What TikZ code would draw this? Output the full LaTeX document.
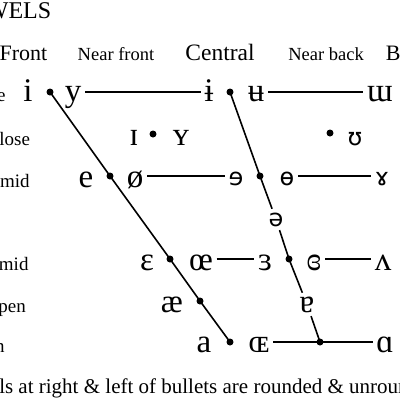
\documentclass[tikz,border=0pt]{standalone}
\usepackage{fontspec}
\setmainfont{Liberation Serif}
\newfontfamily\ipasans{DejaVu Sans}
\usepackage{tikz}

\begin{document}
\begin{tikzpicture}[
  x=1pt, y=-1pt,
  vowel/.style={anchor=base, inner sep=3pt, font=\fontsize{33}{33}\selectfont},
  svowel/.style={anchor=base, inner sep=3pt, font=\ipasans\fontsize{24}{24}\selectfont},
  bullet/.style={circle, fill=black, inner sep=0pt, minimum size=7pt},
  height/.style={anchor=base, font=\fontsize{19}{19}\selectfont},
  backness/.style={anchor=base, font=\fontsize{22}{22}\selectfont},
  nearback/.style={anchor=base, font=\fontsize{18.5}{18.5}\selectfont},
  line width=1.6pt
]
  \useasboundingbox (0,0) rectangle (400,400);
  \clip (0,0) rectangle (400,400);

  % title and column heads
  \node[anchor=base east, inner sep=0pt, font=\fontsize{24}{24}\selectfont] (title) at (52,18) {VOWELS};
  \node[backness, anchor=base east, inner sep=0pt] (front) at (48,60) {Front};
  \node[nearback] (nfront) at (116,60) {Near front};
  \node[backness, font=\fontsize{23.5}{23.5}\selectfont] (central) at (220,60) {Central};
  \node[nearback] (nback) at (326,60) {Near back};
  \node[backness, anchor=base west, inner sep=0pt] (back) at (385,60) {Back};

  % row heads
  \node[height] (hclose) at (-16,101) {Close};
  \node[height] (hnclose) at (-11,145) {Near-close};
  \node[height] (hcmid) at (-10,187) {Close-mid};
  \node[height] (homid) at (-10,270) {Open-mid};
  \node[height] (hnopen) at (-14,312) {Near-open};
  \node[height] (hopen) at (-16,352) {Open};

  % close
  \node[vowel] (i) at (28,101) {i};
  \node[bullet] (fcl) at (50,92) {};
  \node[vowel] (y) at (73,101) {y};
  \node[vowel] (ibar) at (209,101) {ɨ};
  \node[bullet] (ccl) at (230,92) {};
  \node[vowel] (ubar) at (256,101) {ʉ};
  \node[vowel] (mturn) at (380,101) {ɯ};
  % near-close
  \node[vowel] (ismall) at (134,145) {ɪ};
  \node[bullet] (fncl) at (153,134) {};
  \node[vowel] (ysmall) at (181,145) {ʏ};
  \node[bullet] (bncl) at (330,133) {};
  \node[svowel] (upsilon) at (355,145) {ʊ};
  % close-mid
  \node[vowel] (e) at (86,187) {e};
  \node[bullet] (fcm) at (110,176) {};
  \node[vowel] (oslash) at (135,187) {ø};
  \node[svowel] (erev) at (236,185) {ɘ};
  \node[bullet] (ccm) at (260,176) {};
  \node[svowel] (obar) at (287,185) {ɵ};
  \node[svowel] (gamma) at (382,185) {ɤ};
  % mid
  \node[svowel] (schwa) at (276,226) {ə};
  % open-mid
  \node[vowel] (epsilon) at (147,270) {ɛ};
  \node[bullet] (fom) at (170,259) {};
  \node[vowel] (oe) at (201,270) {œ};
  \node[vowel] (epsrev) at (265,270) {ɜ};
  \node[bullet] (com) at (289,259) {};
  \node[vowel] (epsclosed) at (314,270) {ɞ};
  \node[vowel] (vturn) at (383,270) {ʌ};
  % near-open
  \node[vowel] (ae) at (172,312) {æ};
  \node[bullet] (fno) at (200,301) {};
  \node[vowel] (aturn) at (307,312) {ɐ};
  % open
  \node[vowel] (a) at (204,352) {a};
  \node[bullet] (fop) at (230,342) {};
  \node[vowel] (OE) at (259,352) {ɶ};
  \node[bullet] (cop) at (320,342) {};
  \node[vowel] (alpha) at (385,352) {ɑ};

  % front edge
  \draw (fcl.center) -- (fcm.center) -- (fom.center) -- (fno.center) -- (fop.center);
  % central edge
  \draw (ccl.center) -- (ccm.center) -- (schwa);
  \draw (schwa) -- (com.center) -- (aturn);
  \draw (aturn) -- (cop.center);
  % rows
  \draw (y.east |- fcl) -- (ibar.west |- fcl);
  \draw (ubar.east |- ccl) -- (mturn.west |- ccl);
  \draw (oslash.east |- fcm) -- (erev.west |- fcm);
  \draw (obar.east |- ccm) -- (gamma.west |- ccm);
  \draw (oe.east |- fom) -- (epsrev.west |- fom);
  \draw (epsclosed.east |- com) -- (vturn.west |- com);
  \draw (OE.east |- cop) -- (cop.center) -- (alpha.west |- cop);

  \node[anchor=base west, inner sep=0pt, font=\fontsize{21}{21}\selectfont] (note) at (-49,393)
    {Vowels at right \& left of bullets are rounded \& unrounded.};
\end{tikzpicture}
\end{document}
